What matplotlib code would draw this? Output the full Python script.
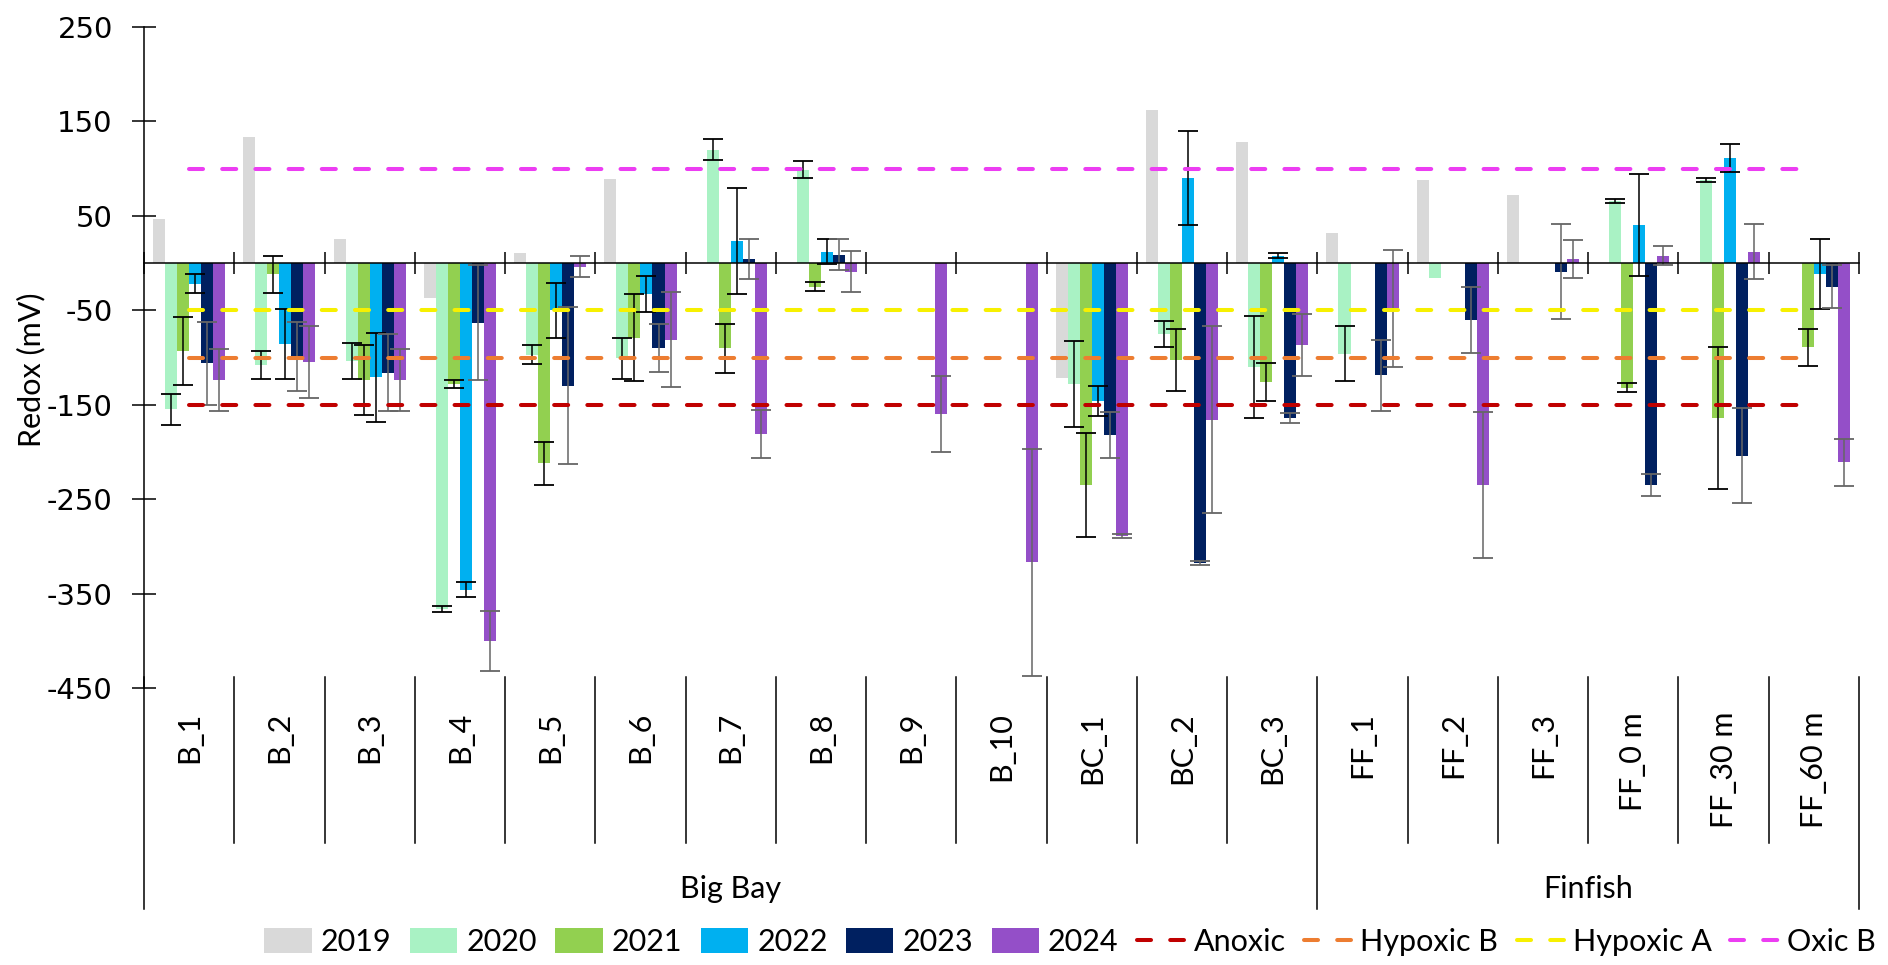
import numpy as np
import matplotlib.pyplot as plt
import matplotlib.transforms as mtransforms
from matplotlib.patches import Patch
from matplotlib.lines import Line2D

plt.rcParams['font.family'] = ['Lato', 'DejaVu Sans']
plt.rcParams['lines.scale_dashes'] = False
plt.rcParams['axes.unicode_minus'] = False

nan = np.nan

# stations along the x axis and the two site groups
stations = ["B_1", "B_2", "B_3", "B_4", "B_5", "B_6", "B_7", "B_8", "B_9", "B_10",
            "BC_1", "BC_2", "BC_3", "FF_1", "FF_2", "FF_3", "FF_0 m", "FF_30 m", "FF_60 m"]
groups = ["Big Bay", "Finfish"]
group_sizes = [13, 6]

years = ["2019", "2020", "2021", "2022", "2023", "2024"]
year_colors = ["#D9D9D9", "#A9F2C4", "#92D050", "#00B0F0", "#002060", "#944FC8"]
err_colors = ["black", "black", "black", "black", "#666666", "#666666"]

# mean redox (mV) per station
redox_2019 = [47, 133, 26, -37, 11, 89, nan, nan, nan, nan, -122, 162, 128, 32, 88, 72, nan, nan, nan]
redox_2020 = [-155, -108, -104, -366, -97, -101, 120, 99, nan, nan, -128, -75, -110, -96, -16, nan, 66, 88, nan]
redox_2021 = [-93, -12, -124, -128, -212, -79, -90, -25, nan, nan, -235, -103, -126, nan, nan, nan, -132, -164, -89]
redox_2022 = [-22, -86, -121, -346, -50, -33, 23, 12, nan, nan, -146, 90, 8, nan, nan, nan, 40, 111, -12]
redox_2023 = [-106, -99, -116, -63, -130, -90, 4, 9, nan, nan, -182, -318, -164, -119, -60, -9, -235, -204, -25]
redox_2024 = [-124, -105, -124, -400, -4, -81, -181, -9, -160, -317, -289, -166, -87, -48, -235, 4, 8, 12, -211]

# standard deviation (error bars), 2019 has none
err_2019 = [nan] * 19
err_2020 = [16, 15, 19, 3, 10, 22, 11, 9, nan, nan, 46, 14, 54, 29, nan, nan, 2, 2, nan]
err_2021 = [36, 20, 37, 4, 23, 46, 26, 4.5, nan, nan, 55, 33, 20, nan, nan, nan, 5, 75, 19.5]
err_2022 = [10, 37, 47, 8, 29, 19, 56, 13, nan, nan, 16, 50, 3, nan, nan, nan, 54, 15, 37]
err_2023 = [44, 37, 41, 61, 83, 25, 21, 16, nan, nan, 24, 2, 5.5, 38, 35, 50, 12, 50, 23]
err_2024 = [33, 38, 33, 32, 11, 50, 25, 22, 40, 120, 2, 99, 33, 62, 77, 20, 10, 29, 25]

means = [redox_2019, redox_2020, redox_2021, redox_2022, redox_2023, redox_2024]
errors = [err_2019, err_2020, err_2021, err_2022, err_2023, err_2024]

# reference thresholds
threshold_names = ["Anoxic", "Hypoxic B", "Hypoxic A", "Oxic B"]
threshold_values = [-150, -100, -50, 100]
threshold_colors = ["#C00000", "#ED7D31", "#F7F000", "#EC3DF2"]

FS = 22
fig = plt.figure(figsize=(18.88, 9.65), dpi=100)
ax = fig.add_axes([144 / 1888, 1 - 688 / 965, 1715 / 1888, 661 / 965])

n = len(stations)
x = np.arange(n)
w = 1 / 7.5
for k, (vals, errs) in enumerate(zip(means, errors)):
    xpos = x + 0.5 + (k - 2.5) * w
    ax.bar(xpos, vals, width=w, color=year_colors[k], zorder=1)
    ax.errorbar(xpos, vals, yerr=errs, fmt="none", ecolor=err_colors[k],
                elinewidth=1.1, capsize=7, capthick=1.3, zorder=2)

dash = (10.1, 13.8)
for name, val, col in zip(threshold_names, threshold_values, threshold_colors):
    ax.plot(x + 0.5, np.full(n, val), color=col, lw=2.9, dashes=dash,
            dash_capstyle="round", zorder=3)

ax.set_xlim(0, n)
ax.set_ylim(-450, 250)
ax.set_yticks(np.arange(-450, 251, 100))
ax.set_xticks(np.arange(n + 1))
ax.set_xticklabels([])
ax.tick_params(axis="y", direction="inout", length=17, width=1.1, pad=14)
ax.tick_params(axis="x", direction="inout", length=16, width=1.1)
for lab in ax.get_yticklabels():
    lab.set_fontfamily("DejaVu Sans")
    lab.set_fontsize(21)

for s in ["top", "right"]:
    ax.spines[s].set_visible(False)
ax.spines["bottom"].set_position(("data", 0))
ax.spines["bottom"].set_zorder(4)
ax.spines["left"].set_linewidth(1.1)
ax.spines["bottom"].set_linewidth(1.1)

# multi-level category axis below the plot
tr = mtransforms.blended_transform_factory(ax.transData, ax.transAxes)
y_top = (688 - 677) / 661
y_short = (688 - 843) / 661
y_long = (688 - 909) / 661
bounds = np.cumsum([0] + group_sizes)
for b in range(n + 1):
    y_end = y_long if b in bounds else y_short
    ax.plot([b, b], [y_top, y_end], transform=tr, color="black", lw=1.1, clip_on=False)

for i, s in enumerate(stations):
    ax.text(i + 0.5, (688 - 712) / 661, s, transform=tr, rotation=90,
            ha="center", va="top", fontsize=FS)

for g, start, size in zip(groups, bounds[:-1], group_sizes):
    ax.text(start + size / 2, (688 - 889) / 661, g, transform=tr,
            ha="center", va="center", fontsize=FS)

fig.text(31.5 / 1888, 1 - 370 / 965, "Redox (mV)", rotation=90,
         ha="center", va="center", fontsize=FS)

handles = [Patch(facecolor=c, label=y) for c, y in zip(year_colors, years)]
handles += [Line2D([0], [0], color=c, lw=2.9, dashes=dash, dash_capstyle="round", label=nm)
            for nm, c in zip(threshold_names, threshold_colors)]
fig.legend(handles=handles, loc="center", bbox_to_anchor=(1070 / 1888, 1 - 942 / 965),
           ncol=10, frameon=False, fontsize=FS, handlelength=1.55, handleheight=0.9,
           handletextpad=0.3, columnspacing=0.6, borderpad=0, borderaxespad=0)

fig.savefig("out.png", dpi=100)
